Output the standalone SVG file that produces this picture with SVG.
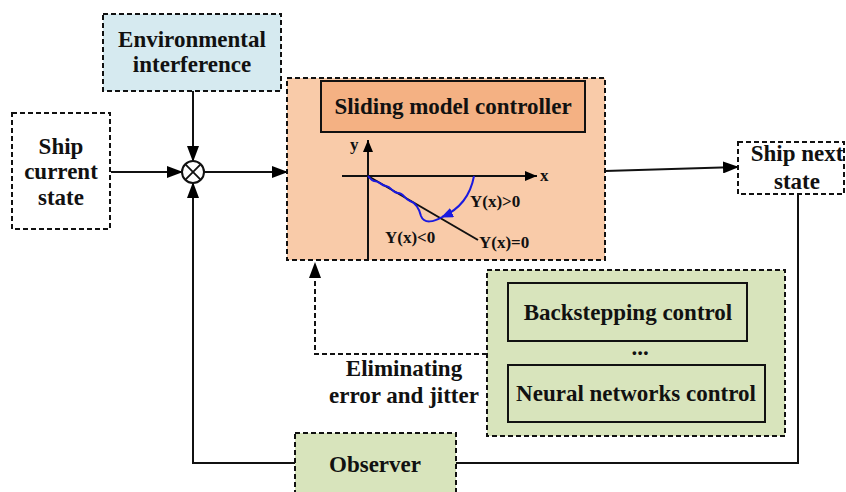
<svg xmlns="http://www.w3.org/2000/svg" width="846" height="492" viewBox="0 0 846 492">
<defs>
<marker id="ah" markerUnits="userSpaceOnUse" markerWidth="16" markerHeight="12" refX="15" refY="6" orient="auto"><path d="M0,0 L16,6 L0,12 z" fill="#000"/></marker>
<marker id="ahs" markerUnits="userSpaceOnUse" markerWidth="12" markerHeight="10" refX="12" refY="5" orient="auto"><path d="M0,0 L12,5 L0,10 z" fill="#000"/></marker>
<marker id="ahb" markerUnits="userSpaceOnUse" markerWidth="12" markerHeight="10" refX="11" refY="5" orient="auto"><path d="M0,0 L12,5 L0,10 z" fill="#1a1ae0"/></marker>
<style>
.dbox{stroke:#111;stroke-width:2;stroke-dasharray:5 3}
.sbox{stroke:#111;stroke-width:2}
.t{font-family:"Liberation Serif","Times New Roman",serif;font-weight:bold;font-size:23px;fill:#111;text-anchor:middle}
.s{font-family:"Liberation Serif","Times New Roman",serif;font-weight:bold;font-size:17px;fill:#111}
.c{fill:none;stroke:#111;stroke-width:2}
</style>
</defs>
<g id="connectors">
<line class="c" x1="111" y1="172" x2="182" y2="172" marker-end="url(#ah)"/>
<line class="c" x1="193" y1="91" x2="193" y2="161" marker-end="url(#ah)"/>
<polyline class="c" points="295,463 193,463 193,183" marker-end="url(#ah)"/>
<line class="c" x1="204" y1="172" x2="287" y2="172" marker-end="url(#ah)"/>
<line class="c" x1="605" y1="171" x2="738" y2="167" marker-end="url(#ah)"/>
<polyline class="c" points="798,194 798,463 456,463"/>
<polyline class="c" points="487,354 315,354 315,263" stroke-dasharray="5 3" marker-end="url(#ah)"/>
</g>
<g id="env">
<rect class="dbox" x="103" y="14" width="178" height="77" fill="#d6eaf0"/>
<text class="t" x="192" y="47">Environmental</text>
<text class="t" x="192" y="72">interference</text>
</g>
<g id="ship-current">
<rect class="dbox" x="12" y="113" width="98" height="116" fill="#fff"/>
<text class="t" x="61" y="154">Ship</text>
<text class="t" x="61" y="179">current</text>
<text class="t" x="61" y="205">state</text>
</g>
<g id="sum">
<circle cx="193" cy="172" r="11" fill="#fff" stroke="#111" stroke-width="2"/>
<path d="M185.2,164.2 L200.8,179.8 M200.8,164.2 L185.2,179.8" stroke="#111" stroke-width="1.8"/>
</g>
<g id="controller">
<rect class="dbox" x="287" y="78" width="318" height="182" fill="#f9cba9"/>
<rect class="sbox" x="321" y="81" width="264" height="51" fill="#f4b183"/>
<text class="t" x="453" y="114">Sliding model controller</text>
<line x1="368" y1="260" x2="368" y2="140" stroke="#111" stroke-width="2" marker-end="url(#ahs)"/>
<line x1="342" y1="176" x2="537" y2="176" stroke="#111" stroke-width="2" marker-end="url(#ahs)"/>
<text class="s" x="540" y="181">x</text>
<text class="s" x="350" y="150">y</text>
<line x1="368" y1="176" x2="478" y2="240" stroke="#111" stroke-width="2"/>
<path d="M474,176 C470,198 458,210 442,217" fill="none" stroke="#1a1ae0" stroke-width="2" marker-end="url(#ahb)"/>
<path d="M442,217 C434,222 424,224 421,216 C419,208 416,203 410,201 C404,199 404,193 398,193 C392,193 392,187 386,186 C380,185 380,181 374,181 C371,180 370,178 368,176" fill="none" stroke="#1a1ae0" stroke-width="2"/>
<text class="s" x="470" y="207">Y(x)&gt;0</text>
<text class="s" x="385" y="243">Y(x)&lt;0</text>
<text class="s" x="479" y="248">Y(x)=0</text>
</g>
<g id="ship-next">
<rect class="dbox" x="738" y="142" width="106" height="52" fill="#fff"/>
<text class="t" x="797" y="161">Ship next</text>
<text class="t" x="797" y="189">state</text>
</g>
<g id="methods">
<rect class="dbox" x="487" y="270" width="298" height="166" fill="#d8e4bc"/>
<rect class="sbox" x="508" y="283" width="239" height="58" fill="#d8e4bc"/>
<text class="t" x="628" y="320">Backstepping control</text>
<text class="t" x="640" y="355">...</text>
<rect class="sbox" x="508" y="365" width="257" height="57" fill="#d8e4bc"/>
<text class="t" x="636" y="401">Neural networks control</text>
</g>
<g id="eliminating">
<text class="t" x="404" y="376">Eliminating</text>
<text class="t" x="404" y="403">error and jitter</text>
</g>
<g id="observer">
<rect class="dbox" x="295" y="433" width="161" height="62" fill="#d8e4bc"/>
<text class="t" x="375" y="472">Observer</text>
</g>
</svg>
